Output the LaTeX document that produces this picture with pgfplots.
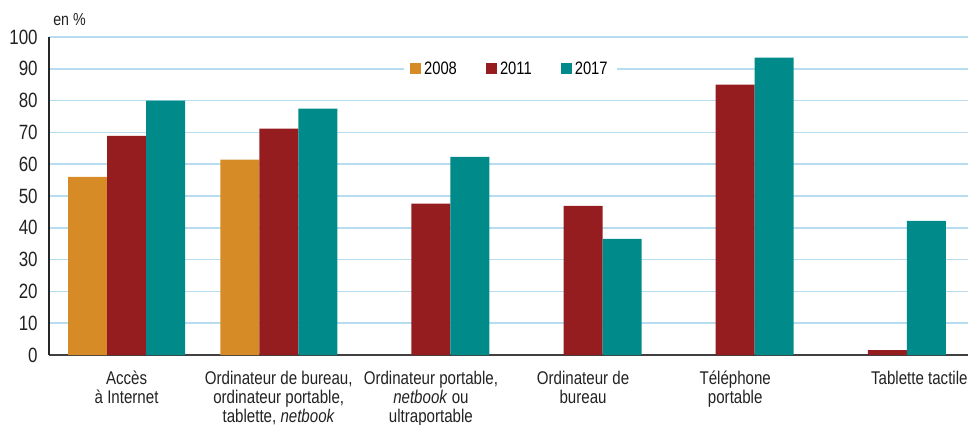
\documentclass[border=0pt]{standalone}
\usepackage{fontspec}
\setmainfont{Liberation Sans}[FakeStretch=0.82]
\usepackage{pgfplots}
\pgfplotsset{compat=1.18}
\definecolor{cOr}{HTML}{D78B27}
\definecolor{cRd}{HTML}{951D20}
\definecolor{cTl}{HTML}{008B8A}
\definecolor{cGrid}{HTML}{B8DCF0}
\definecolor{cTxt}{HTML}{222222}
\begin{document}
\begin{tikzpicture}[x=1pt,y=1pt]
\begin{axis}[
  scale only axis,
  width=689.25pt, height=238.5pt,
  ymin=0, ymax=100,
  xmin=-0.51, xmax=5.53,
  ytick={0,10,...,100},
  xtick={0,1,2,3,4,5},
  xticklabels={{Accès\\à Internet}, {Ordinateur de bureau,\\ordinateur portable,\\tablette, \textit{netbook}}, {Ordinateur portable,\\\textit{netbook} ou\\ultraportable}, {Ordinateur de\\bureau}, {Téléphone\\portable}, {\hspace*{48pt}Tablette tactile}},
  xticklabel style={align=center, font=\fontsize{13.8}{14.4}\selectfont, text=cTxt, yshift=-8.5pt},
  yticklabel style={font=\fontsize{15.5}{16}\selectfont, text=cTxt, xshift=-5pt},
  /pgf/number format/assume math mode=true,
  major tick length=0pt,
  ymajorgrids,
  grid style={cGrid, line width=1.1pt},
  axis x line*=bottom, axis y line*=left,
  x axis line style={color=black!75, line width=1.5pt},
  y axis line style={color=black!85, line width=1.1pt},
  ybar=0pt, bar width=29.25pt,
  legend style={at={(0.502,0.9)}, anchor=center, draw=none, fill=white,
    font=\fontsize{13.5}{14}\selectfont, legend columns=3,
    /tikz/every even column/.append style={column sep=20pt},
    inner xsep=5pt, inner ysep=1pt},
  legend image code/.code={\fill[#1] (0pt,-4.1pt) rectangle (8.3pt,4.1pt);},
  clip=false,
]
\addplot[fill=cOr, draw=none] coordinates {(0,56) (1,61.4)};
\addplot[fill=cRd, draw=none] coordinates {(0,68.9) (1,71.2) (2,47.6) (3,46.9) (4,85) (5,1.5)};
\addplot[fill=cTl, draw=none] coordinates {(0,80) (1,77.5) (2,62.3) (3,36.5) (4,93.5) (5,42.2)};
\legend{2008,2011,2017}
\node[anchor=south west, font=\fontsize{13}{14}\selectfont, text=cTxt, inner sep=0pt] at (rel axis cs:0,1) [xshift=3pt, yshift=8pt] {en \%};
\end{axis}
\pgfresetboundingbox
\path[use as bounding box] (-36.75pt,-52.5pt) rectangle (689.25pt,266.25pt);
\end{tikzpicture}
\end{document}
